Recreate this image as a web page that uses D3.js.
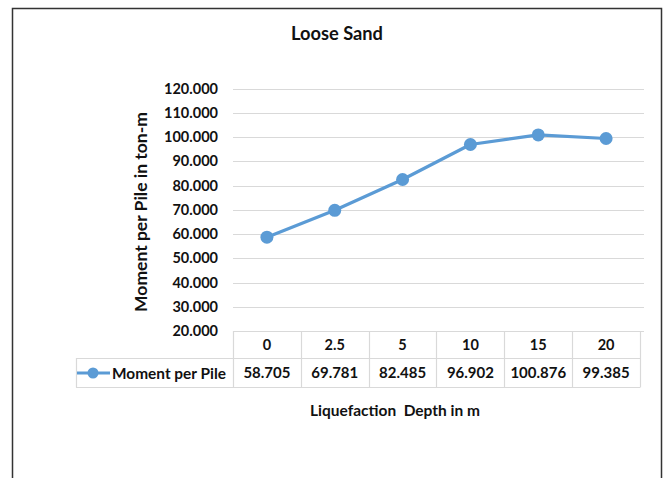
<!DOCTYPE html>
<html>
<head>
<meta charset="utf-8">
<script src="https://cdn.jsdelivr.net/npm/d3@7"></script>
<style>
  html, body { margin: 0; padding: 0; background: #fff; }
  svg { display: block; }
  text { font-family: Lato, "Open Sans", sans-serif; font-weight: bold; fill: #111; white-space: pre; }
</style>
</head>
<body>
<svg id="chart" width="665" height="478"></svg>
<script>
// Liquefaction depths (m) and moment per pile (ton-m)
const depths = ["0", "2.5", "5", "10", "15", "20"];
const moments = [58.705, 69.781, 82.485, 96.902, 100.876, 99.385];
const yTicks = [20, 30, 40, 50, 60, 70, 80, 90, 100, 110, 120];
const seriesName = "Moment per Pile";
const chartTitle = "Loose Sand";
const xTitle = "Liquefaction  Depth in m";
const yTitle = "Moment per Pile in ton-m";

const svg = d3.select("#chart");
const lineColor = "#5b9bd5";
const gridColor = "#d9d9d9";
const fmt = d3.format(".3f");

// scale a text's font size so that it spans the given width
function fitWidth(sel, width) {
  sel.each(function () {
    const base = parseFloat(this.getAttribute("font-size"));
    const len = this.getComputedTextLength();
    if (len > 0) this.setAttribute("font-size", (base * width / len).toFixed(2));
  });
  return sel;
}

// outer frame (open at the bottom)
svg.append("path")
  .attr("d", "M12.5,478 V8.5 H661.5 V478")
  .attr("fill", "none").attr("stroke", "#333").attr("stroke-width", 1.5);

const plotLeft = 233, plotRight = 640;
const y = d3.scaleLinear().domain([20, 120]).range([331, 88.5]);
const x = d3.scaleBand().domain(depths).range([plotLeft, plotRight]);
const cx = d => x(d) + x.bandwidth() / 2;

// gridlines
svg.append("g").selectAll("line").data(yTicks).join("line")
  .attr("x1", plotLeft).attr("x2", plotRight + 4)
  .attr("y1", d => Math.round(y(d)) + 0.5).attr("y2", d => Math.round(y(d)) + 0.5)
  .attr("stroke", gridColor).attr("stroke-width", 1.2);

// y tick labels
const tickLabels = svg.append("g").selectAll("text").data(yTicks).join("text")
  .attr("x", 218).attr("y", d => y(d))
  .attr("dy", "0.36em")
  .attr("text-anchor", "end")
  .attr("font-size", 14.5)
  .text(d => fmt(d));
const tickSize = (() => {
  const t = tickLabels.filter(d => d === 120);
  fitWidth(t, 54);
  return +t.attr("font-size");
})();
tickLabels.attr("font-size", tickSize);

// series line and markers
const line = d3.line()
  .x((d, i) => cx(depths[i]))
  .y(d => y(d));

svg.append("path").datum(moments)
  .attr("d", line)
  .attr("fill", "none").attr("stroke", lineColor).attr("stroke-width", 3.2)
  .attr("stroke-linejoin", "round");

svg.append("g").selectAll("circle").data(moments).join("circle")
  .attr("cx", (d, i) => cx(depths[i]))
  .attr("cy", d => y(d))
  .attr("r", 6.5)
  .attr("fill", lineColor);

// data table
const rowTop = 331, rowMid = 358, rowBottom = 387, legendLeft = 76;
const table = svg.append("g").attr("stroke", gridColor).attr("stroke-width", 1.2).attr("fill", "none");
table.append("path").attr("d",
  `M${plotLeft + 0.5},${rowTop} V${rowBottom + 0.5}` +
  ` M${plotLeft},${rowTop + 0.5} H${plotRight}` +
  ` M${legendLeft},${rowMid + 0.5} H${plotRight}` +
  ` M${legendLeft},${rowBottom + 0.5} H${plotRight}` +
  ` M${legendLeft + 0.5},${rowMid} V${rowBottom + 0.5}`);
table.selectAll("line.col").data(depths).join("line")
  .attr("x1", d => Math.round(x(d) + x.bandwidth()) + 0.5)
  .attr("x2", d => Math.round(x(d) + x.bandwidth()) + 0.5)
  .attr("y1", rowTop).attr("y2", rowBottom + 0.5);

// header row: category labels
svg.append("g").selectAll("text").data(depths).join("text")
  .attr("x", d => cx(d))
  .attr("y", 345)
  .attr("dy", "0.36em").attr("text-anchor", "middle")
  .attr("font-size", tickSize)
  .text(d => d);

// value row
const valueLabels = svg.append("g").selectAll("text").data(moments).join("text")
  .attr("x", (d, i) => cx(depths[i]))
  .attr("y", 373)
  .attr("dy", "0.36em").attr("text-anchor", "middle")
  .attr("font-size", 14.5)
  .text(d => fmt(d));
fitWidth(valueLabels.filter((d, i) => i === 0), 47);
valueLabels.attr("font-size", +valueLabels.filter((d, i) => i === 0).attr("font-size"));

// legend key in the table
const keyY = 373;
svg.append("line").attr("x1", 77).attr("x2", 110).attr("y1", keyY).attr("y2", keyY)
  .attr("stroke", lineColor).attr("stroke-width", 3.2);
svg.append("circle").attr("cx", 93).attr("cy", keyY).attr("r", 5.5).attr("fill", lineColor);
fitWidth(svg.append("text").attr("x", 112).attr("y", keyY).attr("dy", "0.36em")
  .attr("font-size", 15).text(seriesName), 114);

// titles
fitWidth(svg.append("text").attr("x", 337).attr("y", 33).attr("dy", "0.36em")
  .attr("text-anchor", "middle").attr("font-size", 18).text(chartTitle), 92);
fitWidth(svg.append("text").attr("x", 395).attr("y", 410).attr("dy", "0.36em")
  .attr("text-anchor", "middle").attr("font-size", 15).text(xTitle), 170);
fitWidth(svg.append("text")
  .attr("transform", "translate(141,212) rotate(-90)")
  .attr("dy", "0.36em").attr("text-anchor", "middle")
  .attr("font-size", 16).text(yTitle), 200);
</script>
</body>
</html>
